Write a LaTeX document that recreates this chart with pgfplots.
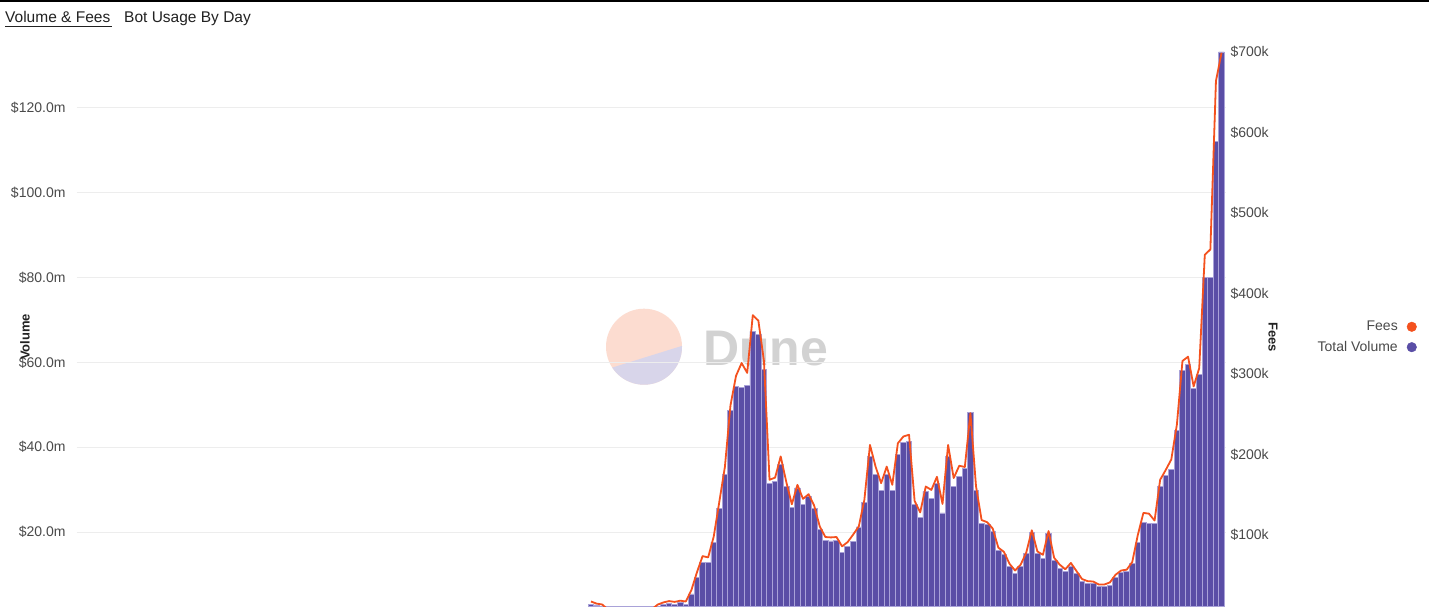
\documentclass[border=0pt]{standalone}
\usepackage{fontspec}
\setmainfont{Liberation Sans}
\usepackage{pgfplots}
\pgfplotsset{compat=1.18}
\usepackage{pgfplotstable}
\definecolor{barpurple}{HTML}{5A4EA6}
\definecolor{baredge}{HTML}{A9A2D8}
\definecolor{feeorange}{HTML}{F4511E}
\definecolor{gridgray}{HTML}{EDEDED}
\definecolor{ticktext}{HTML}{4A4A4A}
\definecolor{titletext}{HTML}{222222}
\definecolor{wmsalmon}{HTML}{FCDCD0}
\definecolor{wmlav}{HTML}{D8D5EA}
\definecolor{wmtext}{HTML}{D2D2D2}

\pgfplotstableread{
i vol fee
0 3.0 17.4
1 2.8 14.8
2 2.5 13.7
3 1.5 7.9
4 1.0 5.3
5 1.0 5.3
6 1.0 5.3
7 1.0 5.3
8 1.0 5.3
9 1.0 5.3
10 1.0 5.3
11 1.5 8.4
12 2.4 13.7
13 3.0 16.3
14 3.2 17.9
15 3.0 16.9
16 3.3 18.4
17 3.0 17.4
18 5.4 31.6
19 9.3 53.8
20 12.8 73.8
21 12.9 72.2
22 17.6 98.0
23 25.6 141.2
24 33.6 184.5
25 48.6 260.9
26 54.4 297.8
27 54.1 313.6
28 54.6 301.4
29 67.3 373.1
30 66.5 366.3
31 58.3 316.2
32 31.4 168.6
33 32.0 171.3
34 35.9 197.6
35 30.8 166.0
36 25.7 138.1
37 30.4 162.3
38 26.4 144.9
39 28.3 150.7
40 25.6 136.5
41 20.6 110.7
42 18.0 97.5
43 17.9 97.0
44 18.1 97.5
45 15.1 85.9
46 16.5 91.2
47 17.8 100.7
48 21.2 110.7
49 26.9 143.9
50 37.9 211.9
51 33.6 185.0
52 29.8 164.4
53 33.5 185.0
54 29.8 162.3
55 38.2 214.0
56 41.2 222.4
57 41.3 224.5
58 26.4 142.3
59 23.5 128.1
60 29.6 160.2
61 28.0 156.0
62 31.5 172.3
63 24.5 138.6
64 37.9 211.9
65 30.7 170.7
66 33.1 186.0
67 34.9 184.5
68 48.2 251.4
69 29.9 160.7
70 22.0 118.6
71 21.8 115.9
72 20.2 108.0
73 15.6 84.3
74 14.7 79.1
75 11.8 64.3
76 10.2 55.9
77 11.8 63.2
78 14.9 78.0
79 19.8 105.9
80 14.9 79.6
81 13.8 75.4
82 19.7 104.9
83 13.3 71.7
84 11.5 63.2
85 10.6 57.4
86 12.0 65.3
87 10.2 55.3
88 8.3 45.3
89 7.8 42.7
90 7.8 42.2
91 7.1 38.5
92 7.1 38.5
93 7.5 41.1
94 9.3 50.6
95 10.4 55.9
96 10.6 56.9
97 12.5 66.4
98 17.6 100.1
99 22.3 127.5
100 22.0 126.5
101 22.0 118.0
102 30.7 168.6
103 33.3 180.8
104 34.8 193.9
105 44.0 237.2
106 58.0 316.2
107 59.6 321.5
108 53.8 284.6
109 57.2 307.2
110 80.0 448.0
111 80.0 454.8
112 112.0 664.0
113 133.2 699.0
}\datatable

\begin{document}
\begin{tikzpicture}[x=1pt,y=1pt]
\useasboundingbox (0,0) rectangle (1429,606);
\fill[white] (0,0) rectangle (1429,606);
\draw[black, line width=1.6pt] (0,605.2) -- (1429,605.2);
% title
\node[anchor=base west, inner sep=0pt, font=\fontsize{15.5}{17}\selectfont, text=titletext] at (5,583.5) {Volume \& Fees};
\draw[titletext, line width=1.2pt] (5,579.5) -- (112,579.5);
\node[anchor=base west, inner sep=0pt, font=\fontsize{15.5}{17}\selectfont, text=titletext] at (124,583.5) {Bot Usage By Day};
% watermark
\begin{scope}
\clip (644,259.3) circle (38);
\fill[wmsalmon] (600,215) rectangle (690,300);
\fill[wmlav] (600,234.6) -- (690,262.6) -- (690,215) -- (600,215) -- cycle;
\end{scope}
\node[anchor=base west, inner sep=0pt, font=\fontsize{50}{52}\selectfont\bfseries, text=wmtext] at (703,241) {Dune};

\begin{axis}[
  at={(77pt,0pt)}, anchor=south west,
  scale only axis, width=1149pt, height=554pt,
  xmin=-92.1, xmax=113.8,
  ymin=2.55, ymax=133.2,
  axis line style={draw=none},
  xtick=\empty,
  ytick={20,40,60,80,100,120},
  yticklabels={\$20.0m,\$40.0m,\$60.0m,\$80.0m,\$100.0m,\$120.0m},
  yticklabel style={font=\fontsize{14}{16}\selectfont, text=ticktext, xshift=-8pt},
  major tick length=0pt,
  ymajorgrids, grid style={gridgray, line width=1pt},
  ylabel={Volume},
  ylabel style={font=\fontsize{13}{15}\selectfont\bfseries, text=titletext, at={(axis description cs:-0.0452,0.4856)}, anchor=center},
  clip=true,
]
\addplot[ybar, bar width=1, fill=barpurple, draw=baredge, line width=0.8pt] table[x=i, y=vol] {\datatable};
\end{axis}

\begin{axis}[
  at={(77pt,0pt)}, anchor=south west,
  scale only axis, width=1149pt, height=554pt,
  xmin=-92.1, xmax=113.8,
  ymin=11.8, ymax=700,
  axis x line=none, axis y line*=right,
  axis line style={draw=none},
  ytick={100,200,300,400,500,600,700},
  yticklabels={\$100k,\$200k,\$300k,\$400k,\$500k,\$600k,\$700k},
  yticklabel style={font=\fontsize{14}{16}\selectfont, text=ticktext, xshift=1pt},
  major tick length=0pt,
  ylabel={Fees},
  ylabel style={font=\fontsize{13}{15}\selectfont\bfseries, text=titletext, at={(axis description cs:1.0410,0.4856)}, anchor=center, rotate=180},
  legend plot pos=right,
  legend cell align=right,
  legend image code/.code={\path[draw=none,fill=none] (0pt,-1pt) rectangle (16.8pt,1pt); \fill[#1] (12pt,0pt) circle (4.8pt);},
  legend style={draw=none, fill=none, font=\fontsize{14}{16}\selectfont, text=ticktext, at={(axis description cs:1.1662,0.518)}, anchor=north east, inner sep=0pt, row sep=5pt},
  clip=false,
]
\addlegendimage{feeorange}
\addlegendentry{Fees}
\addlegendimage{barpurple}
\addlegendentry{Total Volume}
\addplot[sharp plot, color=feeorange, line width=1.8pt, line join=round] table[x=i, y=fee] {\datatable};
\end{axis}
\end{tikzpicture}
\end{document}
